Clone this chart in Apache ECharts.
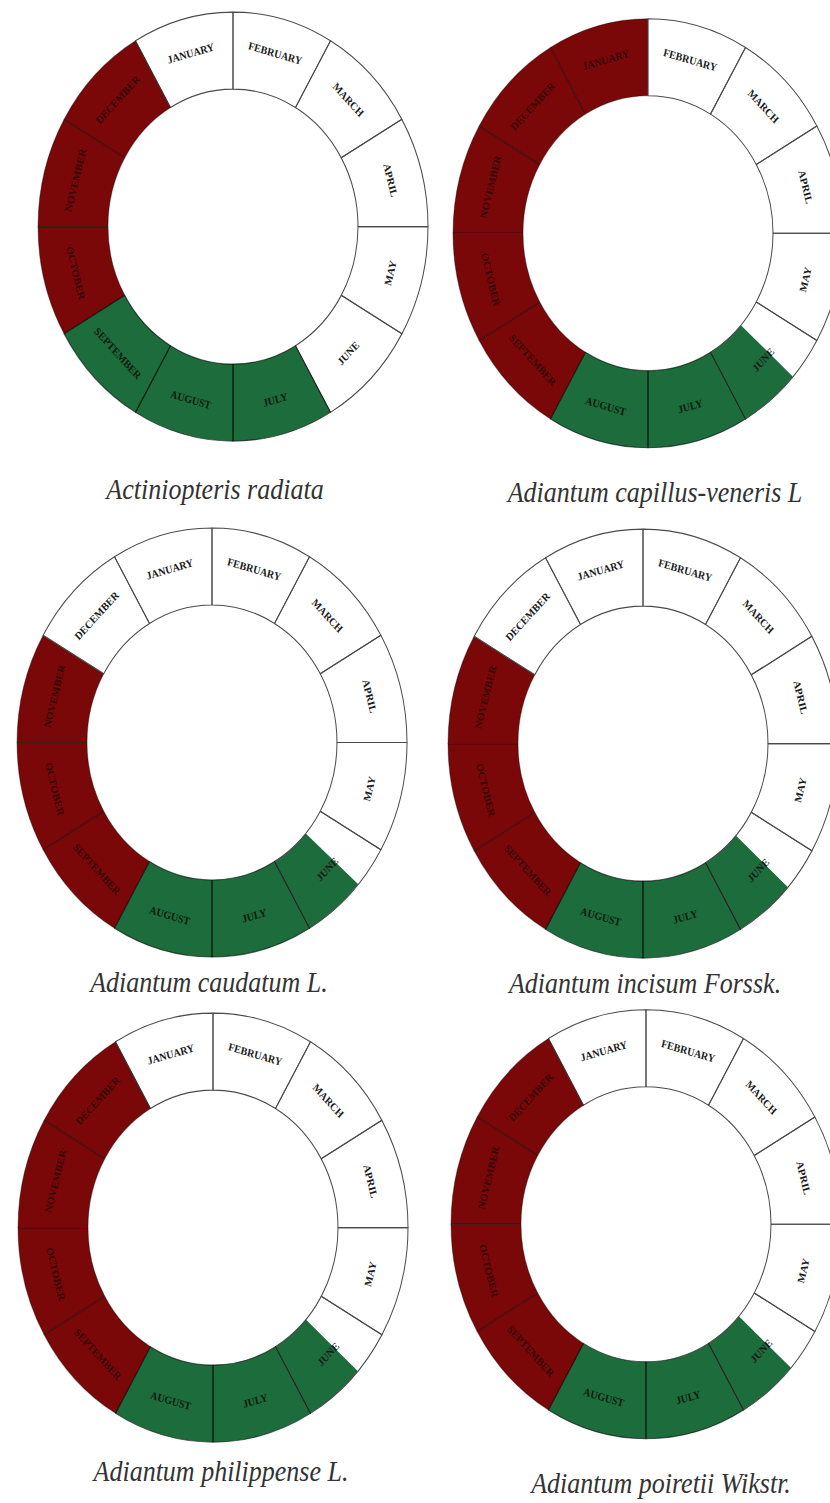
<!DOCTYPE html>
<html>
<head>
<meta charset="utf-8">
<script src="https://cdn.jsdelivr.net/npm/echarts@6/dist/echarts.min.js"></script>
<style>
  html { margin: 0; padding: 0; background: #ffffff; overflow: hidden; }
  body { margin: 0; padding: 0; background: #ffffff; width: 830px; height: 1503px; }
  #chart { width: 830px; height: 1366px; transform: scaleY(1.1); transform-origin: 0 0; }
</style>
</head>
<body>
<div id="chart"></div>
<script>
// ---------- data ----------
const months = ['JANUARY', 'FEBRUARY', 'MARCH', 'APRIL', 'MAY', 'JUNE',
                'JULY', 'AUGUST', 'SEPTEMBER', 'OCTOBER', 'NOVEMBER', 'DECEMBER'];

const speciesNames = ['Actiniopteris radiata', 'Adiantum capillus-veneris L',
                      'Adiantum caudatum L.', 'Adiantum incisum Forssk.',
                      'Adiantum philippense L.', 'Adiantum poiretii Wikstr.'];

// share of each month shaded green / red (Jan ... Dec)
const greenActiniopteris = [0, 0, 0, 0, 0, 0,   1, 1, 1, 0, 0, 0];
const redActiniopteris   = [0, 0, 0, 0, 0, 0,   0, 0, 0, 1, 1, 1];
const greenCapillus      = [0, 0, 0, 0, 0, 0.6, 1, 1, 0, 0, 0, 0];
const redCapillus        = [1, 0, 0, 0, 0, 0,   0, 0, 1, 1, 1, 1];
const greenCaudatum      = [0, 0, 0, 0, 0, 0.62, 1, 1, 0, 0, 0, 0];
const redCaudatum        = [0, 0, 0, 0, 0, 0,   0, 0, 1, 1, 1, 0];
const greenIncisum       = [0, 0, 0, 0, 0, 0.6, 1, 1, 0, 0, 0, 0];
const redIncisum         = [0, 0, 0, 0, 0, 0,   0, 0, 1, 1, 1, 0];
const greenPhilippense   = [0, 0, 0, 0, 0, 0.6, 1, 1, 0, 0, 0, 0];
const redPhilippense     = [0, 0, 0, 0, 0, 0,   0, 0, 1, 1, 1, 1];
const greenPoiretii      = [0, 0, 0, 0, 0, 0.6, 1, 1, 0, 0, 0, 0];
const redPoiretii        = [0, 0, 0, 0, 0, 0,   0, 0, 1, 1, 1, 1];

const greenShares = [greenActiniopteris, greenCapillus, greenCaudatum, greenIncisum, greenPhilippense, greenPoiretii];
const redShares   = [redActiniopteris, redCapillus, redCaudatum, redIncisum, redPhilippense, redPoiretii];

// ---------- layout & style ----------
const layoutCenters = [[233, 206], [648, 212], [212, 675], [643, 676], [213, 1116], [646, 1113]];
const layoutTitles  = [[210, 427], [650, 430], [204, 875], [640, 876], [216, 1320], [656, 1331]];
const ringRadius = [125, 195];
const WHITE = '#ffffff', GREEN = '#1d6c3b', RED = '#7a0808';

const series = [];
const titles = [];

speciesNames.forEach(function (name, i) {
  const g = greenShares[i], r = redShares[i];
  // fills
  const fillData = [];
  months.forEach(function (m, k) {
    const w = 1 - g[k] - r[k];
    if (w > 0) fillData.push({ value: w, name: m + ' ', itemStyle: { color: WHITE } });
    if (g[k] > 0) fillData.push({ value: g[k], name: m + '  ', itemStyle: { color: GREEN } });
    if (r[k] > 0) fillData.push({ value: r[k], name: m + '   ', itemStyle: { color: RED } });
  });
  series.push({
    type: 'pie', silent: true, animation: false,
    center: layoutCenters[i], radius: ringRadius,
    startAngle: 120, clockwise: true, avoidLabelOverlap: false,
    label: { show: false }, labelLine: { show: false },
    itemStyle: { borderWidth: 0 },
    data: fillData
  });
  // month outlines and labels
  const outlineData = months.map(function (m, k) {
    let border = '#4a4a4a', txt = '#1a1a1a';
    if (g[k] >= 1) { border = 'rgba(0,0,0,0.6)'; txt = '#0a1a0e'; }
    else if (r[k] >= 1) { border = 'rgba(0,0,0,0.35)'; txt = 'rgba(20,0,0,0.7)'; }
    return {
      value: 1, name: m,
      itemStyle: { color: 'rgba(0,0,0,0)', borderColor: border, borderWidth: 1 },
      label: { color: txt }
    };
  });
  series.push({
    type: 'pie', silent: true, animation: false,
    center: layoutCenters[i], radius: ringRadius,
    startAngle: 120, clockwise: true, avoidLabelOverlap: false,
    label: {
      show: true, position: 'inside', rotate: 'tangential',
      formatter: '{b}', fontSize: 10, fontWeight: 'bold',
      fontFamily: 'Liberation Serif'
    },
    labelLine: { show: false },
    data: outlineData
  });
  titles.push({
    text: name, left: layoutTitles[i][0], top: layoutTitles[i][1], textAlign: 'center',
    textStyle: { fontFamily: 'Liberation Serif', fontStyle: 'italic', fontWeight: 'normal',
                 fontSize: 26, color: '#333333' }
  });
});

const chart = echarts.init(document.getElementById('chart'), null, { renderer: 'svg' });
chart.setOption({
  backgroundColor: '#ffffff',
  animation: false,
  title: titles,
  series: series
});
</script>
</body>
</html>
